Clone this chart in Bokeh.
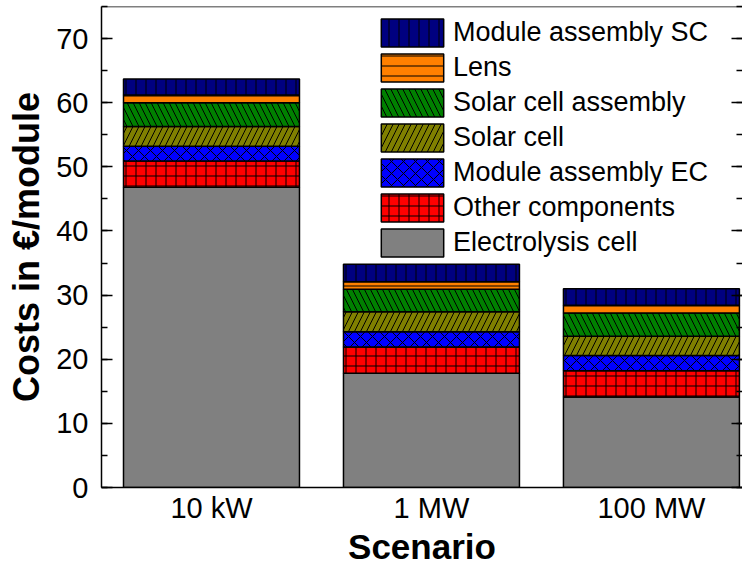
from bokeh.plotting import figure
from bokeh.models import (Range1d, LinearAxis, SingleIntervalTicker, FixedTicker,
                          ColumnDataSource, Span)
from bokeh.embed import file_html
from bokeh.resources import INLINE

scenarios = ["10 kW", "1 MW", "100 MW"]
positions = [1, 2, 3]
electrolysis = [46.8, 17.8, 14.1]
other_comp = [4.1, 4.1, 4.1]
module_ec = [2.3, 2.4, 2.4]
solar_cell = [3.1, 3.1, 3.0]
solar_assembly = [3.7, 3.5, 3.6]
lens = [1.2, 1.2, 1.2]
module_sc = [2.5, 2.7, 2.6]
y_ticks = [0, 10, 20, 30, 40, 50, 60, 70]

series_names = ["Electrolysis cell", "Other components", "Module assembly EC",
                "Solar cell", "Solar cell assembly", "Lens", "Module assembly SC"]
series_keys = ["ec", "oc", "maec", "sc", "sca", "lens", "masc"]
colors = ["#808080", "#FF0000", "#0000FF", "#808000", "#008000", "#FF8000", "#000080"]
hatches = [" ", "+", "x", "/", "\\", "-", "|"]
hatch_scales = [10, 10, 12, 12, 12, 10, 10]

source = ColumnDataSource(dict(x=positions, ec=electrolysis, oc=other_comp, maec=module_ec,
                               sc=solar_cell, sca=solar_assembly, lens=lens, masc=module_sc))

FONT = "Liberation Sans"

p = figure(width=742, height=568, output_backend="svg", toolbar_location=None,
           x_range=Range1d(0.5, 3.414), y_range=Range1d(0, 75),
           min_border_left=101, min_border_right=0, min_border_top=6, min_border_bottom=40,
           title=None, background_fill_color="white", border_fill_color="white")
p.outline_line_color = None
p.xgrid.grid_line_color = None
p.ygrid.grid_line_color = None

renderers = p.vbar_stack(series_keys, x="x", width=0.8, source=source,
                         fill_color=colors, line_color="black", line_width=1.5,
                         hatch_pattern=hatches, hatch_color="black", hatch_weight=1,
                         hatch_scale=hatch_scales, legend_label=series_names)

# axes
xa = p.xaxis[0]
xa.ticker = FixedTicker(ticks=positions)
xa.major_label_overrides = {pos: lab for pos, lab in zip(positions, scenarios)}
xa.major_tick_in = 0
xa.major_tick_out = 0
xa.minor_tick_in = 0
xa.minor_tick_out = 0
xa.axis_line_width = 1.5
xa.axis_line_color = "black"
xa.major_label_standoff = 4
xa.major_label_text_font = FONT
xa.major_label_text_font_size = "29px"
xa.major_label_text_color = "black"
xa.axis_label = "Scenario"
xa.axis_label_text_font = FONT
xa.axis_label_text_font_size = "35px"
xa.axis_label_text_font_style = "bold"
xa.axis_label_text_color = "black"
xa.axis_label_standoff = 0

ya = p.yaxis[0]
ya.ticker = SingleIntervalTicker(interval=10, num_minor_ticks=2)
ya.major_tick_in = 11
ya.major_tick_out = 0
ya.minor_tick_in = 6
ya.minor_tick_out = 0
ya.major_tick_line_width = 1.5
ya.minor_tick_line_width = 1.5
ya.axis_line_width = 1.5
ya.axis_line_color = "black"
ya.major_label_standoff = 13
ya.major_label_text_font = FONT
ya.major_label_text_font_size = "29px"
ya.major_label_text_color = "black"
ya.axis_label = "Costs in €/module"
ya.axis_label_text_font = FONT
ya.axis_label_text_font_size = "36px"
ya.axis_label_text_font_style = "bold"
ya.axis_label_text_color = "black"
ya.axis_label_standoff = 6

ra = LinearAxis(ticker=SingleIntervalTicker(interval=10, num_minor_ticks=2))
ra.axis_line_color = None
ra.major_tick_in = 11
ra.major_tick_out = 0
ra.minor_tick_in = 6
ra.minor_tick_out = 0
ra.major_tick_line_width = 1.5
ra.minor_tick_line_width = 1.5
ra.major_label_overrides = {t: "" for t in y_ticks}
ra.major_label_standoff = 0
p.add_layout(ra, "right")

p.add_layout(Span(location=75, dimension="width", line_color="black", line_width=1.5))

leg = p.legend[0]
leg.items = list(reversed(leg.items))
leg.location = (272, 227)
leg.background_fill_alpha = 0
leg.border_line_color = None
leg.padding = 0
leg.margin = 0
leg.spacing = 0
leg.glyph_width = 78
leg.glyph_height = 35
leg.label_height = 35
leg.label_standoff = 2
leg.label_text_font = FONT
leg.label_text_font_size = "27px"
leg.label_text_color = "black"

open("out.html", "w").write(file_html(p, INLINE))
